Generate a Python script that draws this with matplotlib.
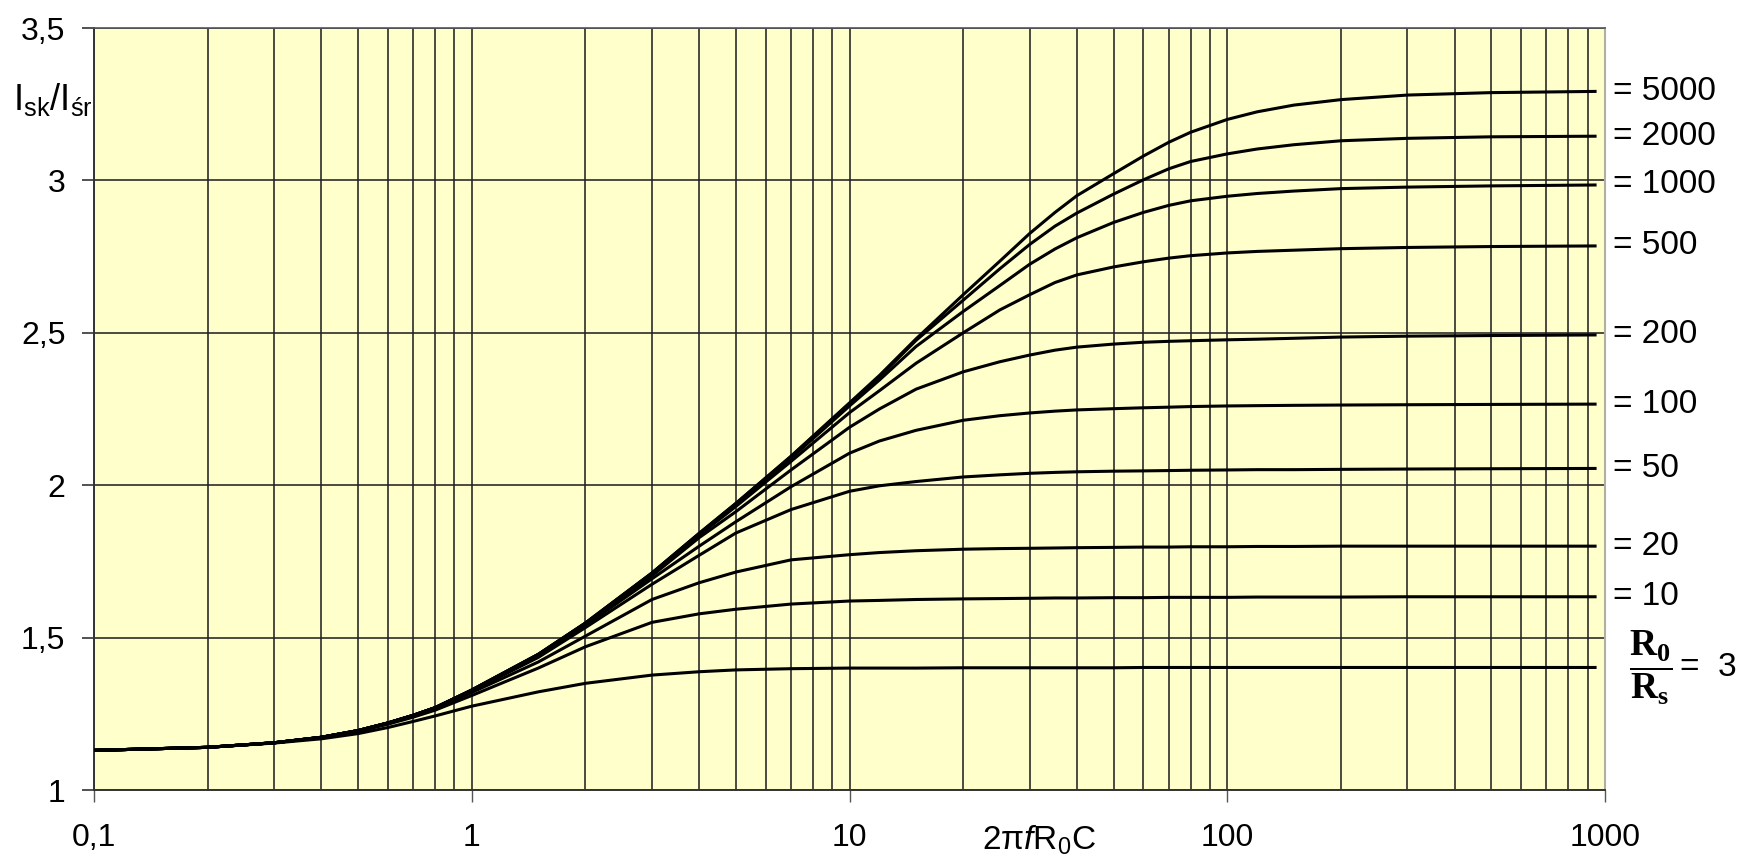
import numpy as np
import matplotlib
matplotlib.use('Agg')
import matplotlib.pyplot as plt
from matplotlib.ticker import FixedLocator, LogLocator, NullFormatter

plt.rcParams['font.family'] = ['Liberation Sans', 'DejaVu Sans']
plt.rcParams['mathtext.fontset'] = 'custom'
plt.rcParams['mathtext.rm'] = 'Liberation Sans'
plt.rcParams['mathtext.it'] = 'Liberation Sans:italic'
plt.rcParams['mathtext.bf'] = 'Liberation Serif:bold'

# ---------------- data ----------------
x_vals = [0.1, 0.2, 0.3, 0.4, 0.5, 0.6, 0.7, 0.8, 1, 1.5, 2, 3, 4, 5, 7, 10, 12, 15, 20, 25,
          30, 35, 40, 50, 60, 70, 80, 100, 120, 150, 200, 300, 500, 950]

ratios = [5000, 2000, 1000, 500, 200, 100, 50, 20, 10, 3]

r5000 = [1.13, 1.14, 1.155, 1.173, 1.195, 1.22, 1.245, 1.27, 1.328, 1.445, 1.548, 1.712, 1.842, 1.94,
         2.095, 2.27, 2.36, 2.48, 2.625, 2.735, 2.826, 2.895, 2.95, 3.022, 3.08, 3.125, 3.158, 3.2,
         3.225, 3.247, 3.265, 3.28, 3.288, 3.292]
r2000 = [1.13, 1.14, 1.155, 1.173, 1.195, 1.22, 1.245, 1.27, 1.328, 1.445, 1.548, 1.712, 1.842, 1.94,
         2.094, 2.268, 2.355, 2.475, 2.607, 2.71, 2.79, 2.85, 2.893, 2.955, 3.002, 3.038, 3.062, 3.087,
         3.103, 3.117, 3.13, 3.138, 3.143, 3.145]
r1000 = [1.13, 1.14, 1.155, 1.173, 1.195, 1.22, 1.245, 1.27, 1.328, 1.445, 1.547, 1.711, 1.84, 1.937,
         2.088, 2.26, 2.345, 2.455, 2.57, 2.655, 2.725, 2.775, 2.812, 2.862, 2.895, 2.918, 2.933, 2.948,
         2.957, 2.965, 2.973, 2.978, 2.982, 2.985]
r500 = [1.13, 1.14, 1.155, 1.173, 1.195, 1.22, 1.245, 1.27, 1.327, 1.444, 1.546, 1.709, 1.836, 1.93,
        2.078, 2.238, 2.31, 2.40, 2.50, 2.575, 2.625, 2.665, 2.69, 2.716, 2.733, 2.745, 2.753, 2.762,
        2.767, 2.771, 2.776, 2.78, 2.783, 2.785]
r200 = [1.13, 1.14, 1.155, 1.173, 1.195, 1.22, 1.245, 1.27, 1.327, 1.443, 1.544, 1.703, 1.828, 1.913,
        2.05, 2.19, 2.25, 2.315, 2.372, 2.405, 2.427, 2.443, 2.453, 2.463, 2.469, 2.472, 2.474, 2.477,
        2.479, 2.482, 2.486, 2.489, 2.491, 2.493]
r100 = [1.13, 1.14, 1.155, 1.173, 1.195, 1.22, 1.245, 1.27, 1.326, 1.44, 1.54, 1.693, 1.80, 1.88,
        1.995, 2.105, 2.145, 2.18, 2.213, 2.228, 2.237, 2.243, 2.247, 2.251, 2.254, 2.256, 2.258, 2.26,
        2.261, 2.262, 2.263, 2.264, 2.265, 2.266]
r50 = [1.13, 1.14, 1.155, 1.173, 1.194, 1.219, 1.244, 1.269, 1.325, 1.435, 1.533, 1.675, 1.77, 1.843,
       1.92, 1.98, 1.998, 2.012, 2.027, 2.034, 2.039, 2.042, 2.044, 2.046, 2.047, 2.048, 2.049, 2.05,
       2.051, 2.051, 2.052, 2.053, 2.054, 2.055]
r20 = [1.13, 1.14, 1.155, 1.172, 1.193, 1.218, 1.242, 1.266, 1.32, 1.42, 1.505, 1.625, 1.68, 1.715,
       1.755, 1.772, 1.779, 1.785, 1.79, 1.792, 1.793, 1.794, 1.795, 1.796, 1.797, 1.797, 1.798, 1.798,
       1.799, 1.799, 1.80, 1.80, 1.80, 1.80]
r10 = [1.13, 1.14, 1.155, 1.172, 1.192, 1.216, 1.239, 1.262, 1.31, 1.40, 1.47, 1.55, 1.578, 1.593,
       1.61, 1.62, 1.622, 1.625, 1.627, 1.628, 1.629, 1.63, 1.63, 1.631, 1.631, 1.632, 1.632, 1.632,
       1.633, 1.633, 1.633, 1.634, 1.634, 1.634]
r3 = [1.13, 1.14, 1.154, 1.168, 1.185, 1.205, 1.225, 1.243, 1.275, 1.322, 1.35, 1.377, 1.388, 1.394,
      1.398, 1.40, 1.40, 1.40, 1.401, 1.401, 1.401, 1.401, 1.401, 1.401, 1.402, 1.402, 1.402, 1.402,
      1.402, 1.402, 1.402, 1.402, 1.402, 1.402]

curves = [r5000, r2000, r1000, r500, r200, r100, r50, r20, r10, r3]

x_ticks = [0.1, 1, 10, 100, 1000]
x_tick_labels = ['0,1', '1', '10', '100', '1000']
y_ticks = [1, 1.5, 2, 2.5, 3, 3.5]
y_tick_labels = ['1', '1,5', '2', '2,5', '3', '3,5']

# ---------------- figure ----------------
W, H = 1760, 866
fig = plt.figure(figsize=(W / 100, H / 100), dpi=100)
fig.patch.set_facecolor('white')
ax = fig.add_axes([94 / W, 1 - 790 / H, (1605 - 94) / W, (790 - 28) / H])
ax.set_facecolor('#FFFFCC')
ax.set_zorder(1)

for ys in curves:
    ax.plot(x_vals, ys, color='black', lw=2.2, solid_joinstyle='round',
            solid_capstyle='butt', zorder=3)

ax.set_xscale('log')
ax.set_xlim(0.1, 1000)
ax.set_ylim(1, 3.5)

ax.xaxis.set_major_locator(FixedLocator(x_ticks))
ax.set_xticklabels(x_tick_labels)
ax.xaxis.set_minor_locator(LogLocator(base=10, subs=np.arange(2, 10)))
ax.xaxis.set_minor_formatter(NullFormatter())
ax.set_yticks(y_ticks)
ax.set_yticklabels(y_tick_labels)

ax.grid(which='major', axis='both', color='#222222', lw=1.15, zorder=1)
ax.grid(which='minor', axis='x', color='#222222', lw=1.15, zorder=1)
ax.set_axisbelow(True)

ax.tick_params(axis='x', which='major', direction='out', length=8.6, width=1.0,
               color='#555555', pad=15, labelsize=23)
ax.tick_params(axis='x', which='minor', length=0)
ax.tick_params(axis='y', which='major', direction='out', length=8.6, width=1.2,
               color='#333333', pad=12, labelsize=23)

for s in ['left', 'bottom']:
    ax.spines[s].set_color('#333333')
    ax.spines[s].set_linewidth(1.4)
ax.spines['top'].set_color('#555555')
ax.spines['top'].set_linewidth(1.2)
ax.spines['right'].set_color('#b0b0a0')
ax.spines['right'].set_linewidth(1.5)

# axis label for x (same row as tick labels)
ax.set_xlabel(r'$\mathregular{2\pi}\mathit{f}\mathregular{R_0C}$', fontsize=24)
ax.xaxis.set_label_coords((1039 - 94) / 1511, -(840 - 790) / 762)
ax.xaxis.label.set_va('center')

# y label at top left (partially hidden behind plot area)
fig.text(13 / W, 1 - 110 / H, r'$\mathregular{I_{sk}/I_{śr}}$', fontsize=26,
         ha='left', va='baseline', zorder=0)

# curve labels on the right
ytrans = ax.get_yaxis_transform()
for r, ys in zip(ratios, curves):
    yv = ys[-1]
    if r == 3:
        ax.text((1651 - 94) / 1511, yv, r'$\dfrac{\mathbf{R}_\mathbf{0}}{\mathbf{R}_\mathbf{s}}$',
                transform=ytrans, ha='center', va='center', fontsize=27, clip_on=False)
        ax.text((1680 - 94) / 1511, yv, '=  ' + str(r), transform=ytrans, ha='left',
                va='center', fontsize=24, clip_on=False)
    else:
        ax.text((1613 - 94) / 1511, yv, '= ' + str(r), transform=ytrans, ha='left',
                va='center', fontsize=24, clip_on=False)

fig.savefig('out.png', dpi=100, facecolor='white')
